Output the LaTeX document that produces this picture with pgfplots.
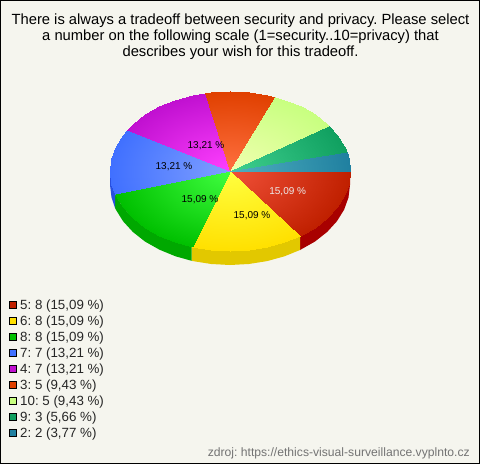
\documentclass[border=0pt]{standalone}
\usepackage{pgfplots}
\usepackage{fontspec}
\setmainfont{Liberation Sans}
\pgfplotsset{compat=1.18}
\definecolor{bg}{HTML}{F5F5EE}
\definecolor{w5}{HTML}{A80000}
\definecolor{w6}{HTML}{E2C800}
\definecolor{w8}{HTML}{00A800}
\definecolor{w7}{HTML}{2850E0}
\definecolor{l5}{HTML}{C02000}
\definecolor{l6}{HTML}{FFE000}
\definecolor{l8}{HTML}{00C000}
\definecolor{l7}{HTML}{4070FF}
\definecolor{l4}{HTML}{C010D0}
\definecolor{l3}{HTML}{E04000}
\definecolor{l10}{HTML}{C8FF80}
\definecolor{l9}{HTML}{10A060}
\definecolor{l2}{HTML}{2080A0}
\pgfplotsset{wedge/.style={patch,patch type=triangle,shader=interp,point meta=explicit,point meta min=0,point meta max=1,forget plot},
 wall/.style={fill=#1,draw=none,forget plot},
 leg/.style={only marks,mark=square*,mark size=3.6pt,mark options={fill=#1,draw=black,line width=0.7pt},forget plot}}
\begin{document}
\frenchspacing
\begin{tikzpicture}
\begin{axis}[scale only axis,width=480pt,height=464pt,xmin=0,xmax=480,ymin=0,ymax=464,y dir=reverse,hide axis,clip=false]
\addplot[fill=bg,draw=black,line width=1pt,forget plot] coordinates {(0.5,0.5) (479.5,0.5) (479.5,463.5) (0.5,463.5)} --cycle;
% walls
\addplot[wall=w5] coordinates {(350,171) (348.5,183.5) (344.1,195.7) (336.9,207.3) (327.1,218) (314.9,227.6) (300,236) (300,250) (314.9,241.6) (327.1,232) (336.9,221.3) (344.1,209.7) (348.5,197.5) (350,185)} --cycle;
\addplot[wall=w6] coordinates {(300,236) (284.5,242.3) (267.1,247.1) (248.8,250) (230,251) (211.2,250) (192.9,247.1) (191.6,246.8) (191.6,260.8) (192.9,261.1) (211.2,264) (230,265) (248.8,264) (267.1,261.1) (284.5,256.3) (300,250)} --cycle;
\addplot[wall=w8] coordinates {(191.6,246.8) (175.5,242.3) (159.5,235.7) (145.1,227.6) (132.9,218) (123.1,207.3) (115.9,195.7) (115.2,194.4) (115.2,208.4) (115.9,209.7) (123.1,221.3) (132.9,232) (145.1,241.6) (159.5,249.7) (175.5,256.3) (191.6,260.8)} --cycle;
\addplot[wall=w7] coordinates {(115.2,194.4) (111.5,183.5) (110,171) (110,185) (111.5,197.5) (115.2,208.4)} --cycle;
% wedges
\addplot[wedge,colormap={c5}{rgb255=(240,80,56) rgb255=(192,32,0)}] coordinates {
(230,171)[0] (350,171)[1] (348.5,183.5)[1] (230,171)[0] (348.5,183.5)[1] (344.1,195.7)[1] (230,171)[0] (344.1,195.7)[1] (336.9,207.3)[1] (230,171)[0] (336.9,207.3)[1] (327.1,218)[1] (230,171)[0] (327.1,218)[1] (314.9,227.6)[1] (230,171)[0] (314.9,227.6)[1] (300,236)[1]};
\addplot[wedge,colormap={c6}{rgb255=(255,255,64) rgb255=(255,224,0)}] coordinates {
(230,171)[0] (300,236)[1] (284.5,242.3)[1] (230,171)[0] (284.5,242.3)[1] (267.1,247.1)[1] (230,171)[0] (267.1,247.1)[1] (248.8,250)[1] (230,171)[0] (248.8,250)[1] (230,251)[1] (230,171)[0] (230,251)[1] (211.2,250)[1] (230,171)[0] (211.2,250)[1] (191.6,246.8)[1]};
\addplot[wedge,colormap={c8}{rgb255=(64,255,64) rgb255=(0,192,0)}] coordinates {
(230,171)[0] (191.6,246.8)[1] (175.5,242.3)[1] (230,171)[0] (175.5,242.3)[1] (159.5,235.7)[1] (230,171)[0] (159.5,235.7)[1] (145.1,227.6)[1] (230,171)[0] (145.1,227.6)[1] (132.9,218)[1] (230,171)[0] (132.9,218)[1] (123.1,207.3)[1] (230,171)[0] (123.1,207.3)[1] (115.2,194.4)[1]};
\addplot[wedge,colormap={c7}{rgb255=(128,160,255) rgb255=(64,112,255)}] coordinates {
(230,171)[0] (115.2,194.4)[1] (111.5,183.5)[1] (230,171)[0] (111.5,183.5)[1] (110,171)[1] (230,171)[0] (110,171)[1] (111.5,158.5)[1] (230,171)[0] (111.5,158.5)[1] (115.9,146.3)[1] (230,171)[0] (115.9,146.3)[1] (123.1,134.7)[1] (230,171)[0] (123.1,134.7)[1] (126.7,130.3)[1]};
\addplot[wedge,colormap={c4}{rgb255=(255,64,255) rgb255=(192,16,208)}] coordinates {
(230,171)[0] (126.7,130.3)[1] (132.9,124)[1] (230,171)[0] (132.9,124)[1] (145.1,114.4)[1] (230,171)[0] (145.1,114.4)[1] (159.5,106.3)[1] (230,171)[0] (159.5,106.3)[1] (175.5,99.7)[1] (230,171)[0] (175.5,99.7)[1] (192.9,94.9)[1] (230,171)[0] (192.9,94.9)[1] (205.3,92.7)[1]};
\addplot[wedge,colormap={c3}{rgb255=(255,112,64) rgb255=(224,64,0)}] coordinates {
(230,171)[0] (205.3,92.7)[1] (211.2,92)[1] (230,171)[0] (211.2,92)[1] (230,91)[1] (230,171)[0] (230,91)[1] (248.8,92)[1] (230,171)[0] (248.8,92)[1] (267.1,94.9)[1] (230,171)[0] (267.1,94.9)[1] (275.1,96.9)[1]};
\addplot[wedge,colormap={c10}{rgb255=(240,255,176) rgb255=(200,255,128)}] coordinates {
(230,171)[0] (275.1,96.9)[1] (284.5,99.7)[1] (230,171)[0] (284.5,99.7)[1] (300.5,106.3)[1] (230,171)[0] (300.5,106.3)[1] (314.9,114.4)[1] (230,171)[0] (314.9,114.4)[1] (327.1,124)[1] (230,171)[0] (327.1,124)[1] (329.5,126.3)[1]};
\addplot[wedge,colormap={c9}{rgb255=(64,208,144) rgb255=(16,160,96)}] coordinates {
(230,171)[0] (329.5,126.3)[1] (336.9,134.7)[1] (230,171)[0] (336.9,134.7)[1] (344.1,146.3)[1] (230,171)[0] (344.1,146.3)[1] (346.6,152.2)[1]};
\addplot[wedge,colormap={c2}{rgb255=(80,176,192) rgb255=(32,128,160)}] coordinates {
(230,171)[0] (346.6,152.2)[1] (348.5,158.5)[1] (230,171)[0] (348.5,158.5)[1] (350,171)[1]};
% legend squares
\addplot[leg=l5] coordinates {(13,305)};
\addplot[leg=l6] coordinates {(13,321)};
\addplot[leg=l8] coordinates {(13,337)};
\addplot[leg=l7] coordinates {(13,353)};
\addplot[leg=l4] coordinates {(13,369)};
\addplot[leg=l3] coordinates {(13,385)};
\addplot[leg=l10] coordinates {(13,401)};
\addplot[leg=l9] coordinates {(13,417)};
\addplot[leg=l2] coordinates {(13,433)};
% texts
\node[align=center,font=\fontsize{14.75}{15.7}\selectfont,text=black] at (axis cs:240.5,36.5) {There is always a tradeoff between security and privacy. Please select\\a number on the following scale (1=security..10=privacy) that\\describes your wish for this tradeoff.};
\tikzset{pl/.style={font=\fontsize{10}{12}\selectfont,inner sep=0pt}, lg/.style={font=\fontsize{13.33}{16}\selectfont,anchor=west,inner sep=0pt,text=black!85}}
\node[pl,text=white!92!black] at (axis cs:287.7,191.7) {15,09 \%};
\node[pl] at (axis cs:252,215.7) {15,09 \%};
\node[pl] at (axis cs:200,199.7) {15,09 \%};
\node[pl] at (axis cs:174,166.7) {13,21 \%};
\node[pl] at (axis cs:206,145.7) {13,21 \%};
\node[lg] at (axis cs:20,306.2) {5: 8 (15,09 \%)};
\node[lg] at (axis cs:20,322.2) {6: 8 (15,09 \%)};
\node[lg] at (axis cs:20,338.2) {8: 8 (15,09 \%)};
\node[lg] at (axis cs:20,354.2) {7: 7 (13,21 \%)};
\node[lg] at (axis cs:20,370.2) {4: 7 (13,21 \%)};
\node[lg] at (axis cs:20,386.2) {3: 5 (9,43 \%)};
\node[lg] at (axis cs:20,402.2) {10: 5 (9,43 \%)};
\node[lg] at (axis cs:20,418.2) {9: 3 (5,66 \%)};
\node[lg] at (axis cs:20,434.2) {2: 2 (3,77 \%)};
\node[font=\fontsize{12.15}{14}\selectfont,anchor=east,inner sep=0pt,text=black!55] at (axis cs:470,453.5) {zdroj: https://ethics-visual-surveillance.vyplnto.cz};
\end{axis}
\end{tikzpicture}
\end{document}
